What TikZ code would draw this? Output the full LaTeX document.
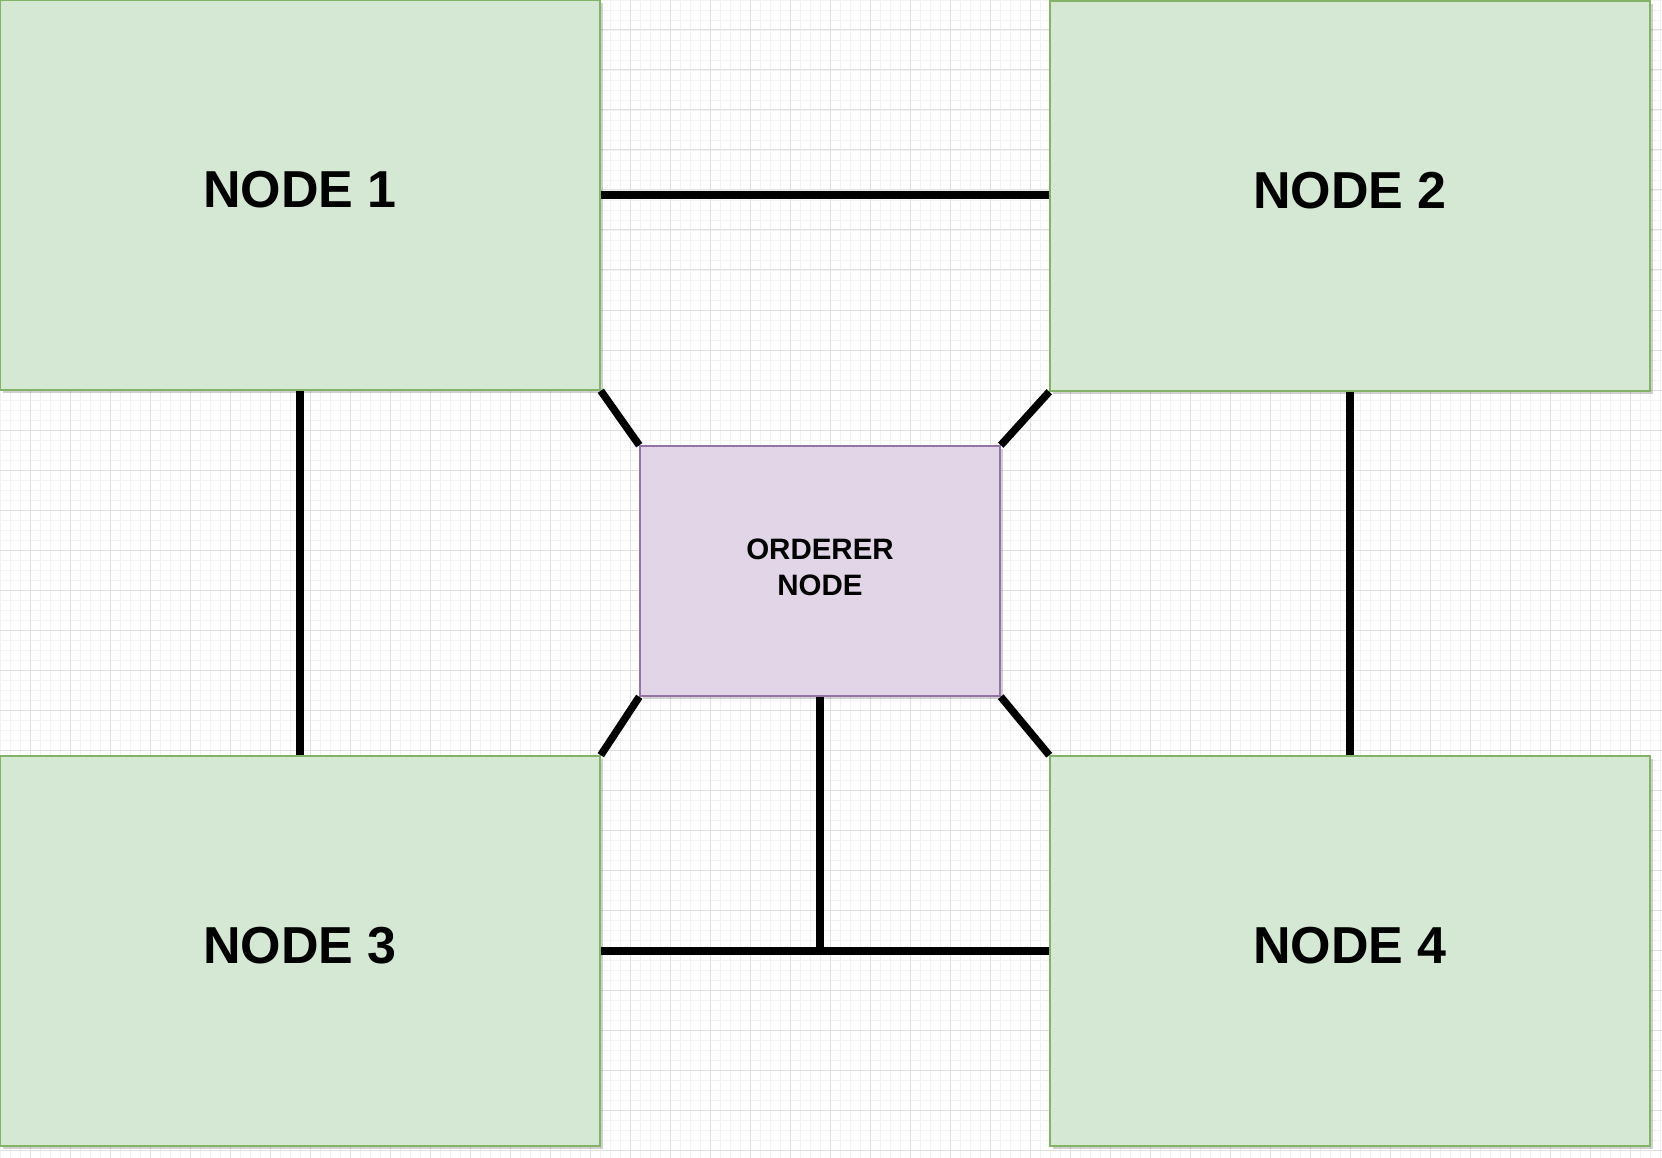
\documentclass[tikz,border=0pt]{standalone}
\usepackage{fontspec}
\setmainfont{Liberation Sans}
\usetikzlibrary{shadows}
\definecolor{gfill}{HTML}{D5E8D4}
\definecolor{gline}{HTML}{82B366}
\definecolor{pfill}{HTML}{E1D5E7}
\definecolor{pline}{HTML}{9673A6}
\definecolor{gridmin}{HTML}{F2F2F2}
\definecolor{gridmaj}{HTML}{E0E0E0}
\tikzset{
  peer/.style={draw=gline, fill=gfill, line width=1.5pt, minimum width=600pt, minimum height=390pt,
    inner sep=0pt, text depth=12pt, font=\fontsize{52}{60}\selectfont\bfseries,
    drop shadow={shadow xshift=3pt, shadow yshift=-3pt, fill=black, opacity=0.18}},
  orderer/.style={draw=pline, fill=pfill, line width=1.5pt, minimum width=360pt, minimum height=250pt,
    inner sep=0pt, align=center, font=\fontsize{29.5}{36}\selectfont\bfseries,
    drop shadow={shadow xshift=3pt, shadow yshift=-3pt, fill=black, opacity=0.18}},
  link/.style={line width=7.5pt, black}
}
\begin{document}
\begin{tikzpicture}[x=1pt,y=-1pt]
\useasboundingbox (0,0) rectangle (1662,1158);
\fill[white] (0,0) rectangle (1662,1158);
% grid
\foreach \i in {0,...,166} {
  \draw[gridmin, line width=0.8pt] (0.7+\i*10,0) -- (0.7+\i*10,1158);
}
\foreach \i in {0,...,115} {
  \draw[gridmin, line width=0.8pt] (0,\i*10) -- (1662,\i*10);
}
\foreach \i in {0,...,41} {
  \draw[gridmaj, line width=1pt] (30.7+\i*40,0) -- (30.7+\i*40,1158);
}
\foreach \i in {0,...,28} {
  \draw[gridmaj, line width=1pt] (0,30+\i*40) -- (1662,30+\i*40);
}
% nodes
\node[peer] (n1) at (300,195) {NODE 1};
\node[peer] (n2) at (1350,196) {NODE 2};
\node[peer] (n3) at (300,951) {NODE 3};
\node[peer] (n4) at (1350,951) {NODE 4};
\node[orderer] (ord) at (820,571) {ORDERER\\NODE\rule[-8pt]{0pt}{8pt}};
% connectors
\draw[link] (n1.east) -- (n2.west |- n1.east);
\draw[link] (n1.south) -- (n3.north);
\draw[link] (n2.south) -- (n4.north);
\draw[link] (n3.east) -- (n4.west);
\coordinate (bj) at (ord.south |- n3.east);
\draw[link] (ord.south) -- (bj);
\draw[link] (n1.south east) -- (ord.north west);
\draw[link] (n2.south west) -- (ord.north east);
\draw[link] (n3.north east) -- (ord.south west);
\draw[link] (n4.north west) -- (ord.south east);
\end{tikzpicture}
\end{document}
